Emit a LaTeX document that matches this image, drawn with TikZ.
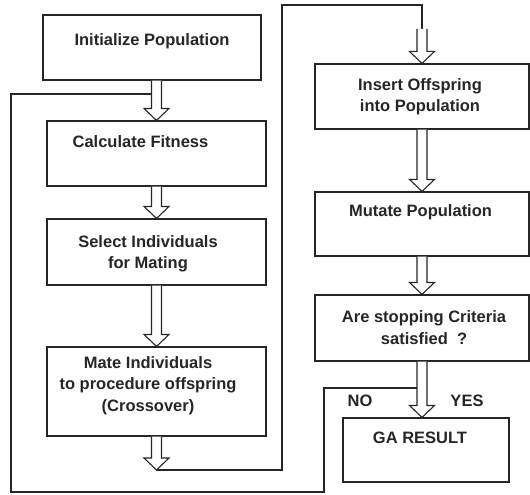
\documentclass[tikz,border=0pt]{standalone}
\usepackage{fontspec}
\setmainfont{Liberation Sans}
\usetikzlibrary{calc}
\begin{document}
\begin{tikzpicture}[x=1pt,y=-1pt,
  box/.style={draw=black!85,line width=1.1pt,rectangle,inner sep=0pt,fill=white},
  txt/.style={font=\fontsize{16.5}{21.5}\selectfont\bfseries,text=black!85,align=center,inner sep=0pt},
  hollow/.style={draw=black!85,line width=1.1pt,fill=white,line join=miter,
    to path={let \p1=(\tikztostart),\p2=(\tikztotarget) in
      (\x2-5pt,\y1) -- (\x2-5pt,\y2+12pt) -- (\x2-12.5pt,\y2+12pt) -- (\x2,\y2)
      -- (\x2+12.5pt,\y2+12pt) -- (\x2+5pt,\y2+12pt) -- (\x2+5pt,\y1)}},
  link/.style={draw=black!85,line width=1.1pt}]
\useasboundingbox (0,0) rectangle (530,495);

% boxes
\node[box,minimum width=218pt,minimum height=65pt] (init) at (152,47.5) {};
\node[box,minimum width=219pt,minimum height=65pt] (fit) at (156.5,153.5) {};
\node[box,minimum width=219pt,minimum height=66pt] (sel) at (156.5,252) {};
\node[box,minimum width=219pt,minimum height=89pt] (mate) at (156.5,391.5) {};
\node[box,minimum width=214pt,minimum height=65pt] (ins) at (422,96.5) {};
\node[box,minimum width=214pt,minimum height=64pt] (mut) at (422,224) {};
\node[box,minimum width=214pt,minimum height=66pt] (stop) at (422,328) {};
\node[box,minimum width=166pt,minimum height=64pt] (ga) at (426,450) {};

% texts
\node[txt] (tinit) at (152,41.5) {Initialize Population};
\node[txt] (tfit) at (140.5,141.5) {Calculate Fitness};
\node[txt] (tsel) at (148,254) {Select Individuals\\for Mating};
\node[txt] (tmate) at (148,385.5) {Mate Individuals\\to procedure offspring\\(Crossover)};
\node[txt] (tins) at (420,96.5) {Insert Offspring\\into Population};
\node[txt] (tmut) at (420.5,212.5) {Mutate Population};
\node[txt] (tstop) at (424,327.5) {Are stopping Criteria\\satisfied\ \ ?};
\node[txt] (tga) at (420,437.5) {GA RESULT};
\node[txt] (tno) at (360,401) {NO};
\node[txt] (tyes) at (467,400.5) {YES};

% coordinates for loop lines
\coordinate (mtip) at (156.5,470);
\coordinate (r1) at (282,5);
\coordinate (topin) at (422,29);
\coordinate (nojoin) at (417,388);
\coordinate (nb) at (324,492);
\coordinate (lb) at (11,492);
\coordinate (fjoin) at (151.5,94);

% loop lines
\draw[link] (mtip) -| (r1) -| (topin);
\draw[link] (nojoin) -| (nb) -- (lb) |- (fjoin);

% hollow arrows
\draw[hollow] (init.south) to (fit.north);
\draw[hollow] (fit.south) to (sel.north);
\draw[hollow] (sel.south) to (mate.north);
\draw[hollow] (mate.south) to (mtip);
\draw[hollow] (topin) to (ins.north);
\draw[hollow] (ins.south) to (mut.north);
\draw[hollow] (mut.south) to (stop.north);
\draw[hollow] (stop.south) to (stop.south |- ga.north);
\end{tikzpicture}
\end{document}
